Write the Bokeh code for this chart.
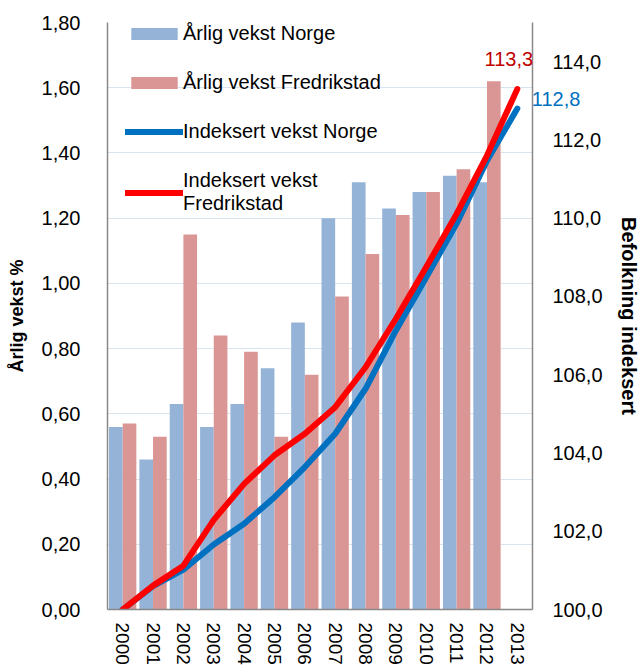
import math
from bokeh.plotting import figure
from bokeh.models import (FactorRange, Range1d, LinearAxis, FixedTicker, CustomJSTickFormatter,
                          Legend, LegendItem, ColumnDataSource, LabelSet)
from bokeh.transform import dodge
from bokeh.core.properties import value
from bokeh.embed import file_html
from bokeh.resources import INLINE

try:
    from bokeh.models import HTMLLabelSet
    LS = HTMLLabelSet
except ImportError:
    LS = LabelSet

# ---------------- data ----------------
years = ["2000", "2001", "2002", "2003", "2004", "2005", "2006",
         "2007", "2008", "2009", "2010", "2011", "2012", "2013"]
bar_years = ["2000", "2001", "2002", "2003", "2004", "2005", "2006",
             "2007", "2008", "2009", "2010", "2011", "2012"]
norge_vekst = [0.56, 0.46, 0.63, 0.56, 0.63, 0.74, 0.88, 1.20, 1.31, 1.23, 1.28, 1.33, 1.31]
fredrikstad_vekst = [0.57, 0.53, 1.15, 0.84, 0.79, 0.53, 0.72, 0.96, 1.09, 1.21, 1.28, 1.35, 1.62]
norge_indeks = [100.0, 100.6, 101.02, 101.66, 102.19, 102.87, 103.64, 104.49,
                105.64, 107.13, 108.49, 109.86, 111.47, 112.8]
fredrikstad_indeks = [100.0, 100.61, 101.12, 102.29, 103.21, 103.94, 104.49, 105.17,
                      106.19, 107.43, 108.75, 110.11, 111.6, 113.3]

left_ticks = [0.0, 0.2, 0.4, 0.6, 0.8, 1.0, 1.2, 1.4, 1.6, 1.8]
left_labels = ["0,00", "0,20", "0,40", "0,60", "0,80", "1,00", "1,20", "1,40", "1,60", "1,80"]
right_ticks = [100, 102, 104, 106, 108, 110, 112, 114]
right_labels = ["100,0", "102,0", "104,0", "106,0", "108,0", "110,0", "112,0", "114,0"]

legend_labels = ["Årlig vekst Norge", "Årlig vekst Fredrikstad",
                 "Indeksert vekst Norge", "Indeksert vekst\nFredrikstad"]
left_title = "Årlig vekst %"
right_title = "Befolkning indeksert"

# ---------------- styles ----------------
FONT = "Liberation Sans"
BLUE_BAR = "#95B3D7"
PINK_BAR = "#D99694"
BLUE_LINE = "#0070C0"
RED_LINE = "#FF0000"
AXIS_GREY = "#898989"
GRID = "#D9E4F1"

p = figure(x_range=FactorRange(factors=years), y_range=Range1d(0, 1.8),
           width=642, height=667, output_backend="svg", toolbar_location=None,
           min_border_left=107, min_border_right=105, min_border_top=22, min_border_bottom=58)
p.extra_y_ranges = {"idx": Range1d(100, 115)}
p.outline_line_color = None
p.background_fill_color = "white"
p.border_fill_color = "white"
p.xgrid.visible = False
p.ygrid.grid_line_color = GRID
p.ygrid.grid_line_width = 1

bars = ColumnDataSource(dict(year=bar_years, norge=norge_vekst, fredrikstad=fredrikstad_vekst))
lines = ColumnDataSource(dict(year=years, norge=norge_indeks, fredrikstad=fredrikstad_indeks))

r1 = p.vbar(x=dodge("year", -0.225, range=p.x_range), top="norge", width=0.45,
            source=bars, fill_color=BLUE_BAR, line_color=None)
r2 = p.vbar(x=dodge("year", 0.225, range=p.x_range), top="fredrikstad", width=0.45,
            source=bars, fill_color=PINK_BAR, line_color=None)
r3 = p.line(x="year", y="norge", source=lines, y_range_name="idx",
            line_color=BLUE_LINE, line_width=6, line_cap="round", line_join="round")
r4 = p.line(x="year", y="fredrikstad", source=lines, y_range_name="idx",
            line_color=RED_LINE, line_width=6, line_cap="round", line_join="round")

lookup_code = """
let best = 0;
for (let i = 0; i < tvals.length; i++) {
  if (Math.abs(tvals[i] - tick) < Math.abs(tvals[best] - tick)) best = i;
}
return tlabels[best];
"""

# left axis
ly = p.yaxis[0]
ly.ticker = FixedTicker(ticks=left_ticks)
ly.formatter = CustomJSTickFormatter(args=dict(tvals=left_ticks, tlabels=left_labels), code=lookup_code)
ly.axis_label = left_title
ly.axis_label_text_font_size = "18px"
ly.axis_label_standoff = 12
ly.major_label_standoff = 27

# right axis
ry = LinearAxis(y_range_name="idx", ticker=FixedTicker(ticks=right_ticks),
                formatter=CustomJSTickFormatter(args=dict(tvals=right_ticks, tlabels=right_labels),
                                                code=lookup_code),
                axis_label=right_title)
ry.axis_label_text_font_size = "20px"
ry.axis_label_standoff = 12
ry.major_label_standoff = 20
p.add_layout(ry, "right")

for ax in [ly, ry]:
    ax.axis_label_text_font = FONT
    ax.axis_label_text_font_style = "bold"
    ax.major_label_text_font = FONT
    ax.major_label_text_font_size = "20px"
    ax.major_label_text_color = "black"
    ax.axis_label_text_color = "black"
    ax.major_tick_out = 0
    ax.major_tick_in = 0
    ax.minor_tick_out = 0
    ax.minor_tick_in = 0
    ax.axis_line_color = AXIS_GREY
    ax.axis_line_width = 1.5

# bottom axis
bx = p.xaxis[0]
bx.major_label_orientation = -math.pi / 2
bx.major_label_text_font = FONT
bx.major_label_text_font_size = "19px"
bx.major_label_text_color = "black"
bx.major_label_standoff = 13
bx.major_tick_out = 0
bx.major_tick_in = 0
bx.axis_line_color = AXIS_GREY
bx.axis_line_width = 1.5

# end-value labels
def fmt1(v):
    return f"{v:.1f}".replace(".", ",")

end_red = ColumnDataSource(dict(x=[years[-1]], y=[fredrikstad_indeks[-1]],
                                t=[fmt1(fredrikstad_indeks[-1])]))
end_blue = ColumnDataSource(dict(x=[years[-1]], y=[norge_indeks[-1]],
                                 t=[fmt1(norge_indeks[-1])]))
p.add_layout(LS(x="x", y="y", text="t", source=end_red, y_range_name="idx",
                x_offset=-8, y_offset=30, text_align="center", text_baseline="middle",
                text_font=value(FONT), text_font_size="20px", text_color="#C00000"))
p.add_layout(LS(x="x", y="y", text="t", source=end_blue, y_range_name="idx",
                x_offset=15, y_offset=9, text_align="left", text_baseline="middle",
                text_font=value(FONT), text_font_size="20px", text_color=BLUE_LINE))

legend = Legend(items=[
    LegendItem(label=value(legend_labels[0]), renderers=[r1]),
    LegendItem(label=value(legend_labels[1]), renderers=[r2]),
    LegendItem(label=value(legend_labels[2]), renderers=[r3]),
    LegendItem(label=value(legend_labels[3]), renderers=[r4]),
], location=(18, 394), padding=0, margin=0, spacing=26,
    glyph_width=58, glyph_height=15, label_standoff=0,
    label_text_font=FONT, label_text_font_size="20px", label_text_color="black",
    background_fill_alpha=0, border_line_alpha=0)
p.add_layout(legend)

open("out.html", "w").write(file_html(p, INLINE))
